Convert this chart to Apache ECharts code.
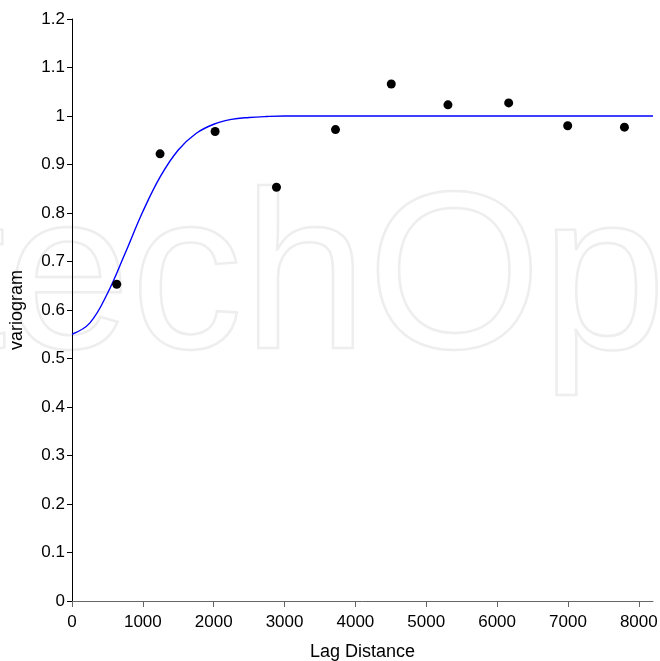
<!DOCTYPE html>
<html>
<head>
<meta charset="utf-8">
<script src="https://cdn.jsdelivr.net/npm/echarts@6/dist/echarts.min.js"></script>
<style>html,body{margin:0;padding:0;background:#fff;}#c{width:660px;height:661px;}</style>
</head>
<body>
<div id="c"></div>
<script>
// Experimental variogram points (lag distance, value)
var lagX = [631, 1243, 2020, 2886, 3719, 4506, 5306, 6163, 6996, 7797];
var lagY = [0.653, 0.922, 0.968, 0.853, 0.972, 1.066, 1.023, 1.027, 0.980, 0.977];
// Fitted model curve
var modelX = [0, 250, 500, 750, 1000, 1250, 1500, 1750, 2000, 2250, 2500, 2750, 3000, 4000, 5000, 6000, 7000, 8000, 8200];
var modelY = [0.550, 0.573, 0.634, 0.717, 0.803, 0.876, 0.930, 0.964, 0.983, 0.993, 0.997, 0.999, 1.000, 1.000, 1.000, 1.000, 1.000, 1.000, 1.000];
var xTicks = [0, 1000, 2000, 3000, 4000, 5000, 6000, 7000, 8000];
var watermarkText = 'IntechOpen';

var chart = echarts.init(document.getElementById('c'), null, {renderer: 'canvas'});
var font = 'Liberation Sans, Arial, sans-serif';
chart.setOption({
  backgroundColor: '#fff',
  animation: false,
  graphic: [{
    type: 'text', z: -10, silent: true,
    style: {
      x: -243, y: 286, text: watermarkText,
      font: '224px "Liberation Sans", Arial, sans-serif',
      fill: 'rgba(0,0,0,0)', stroke: '#eeeeee', lineWidth: 2.5,
      textAlign: 'left', textVerticalAlign: 'middle'
    }
  }],
  grid: {left: 72, top: 19, right: 7, bottom: 60, containLabel: false, outerBoundsMode: 'none'},
  xAxis: {
    type: 'value', min: 0, max: 8200, interval: 1000,
    name: 'Lag Distance', nameLocation: 'middle', nameGap: 42,
    nameTextStyle: {fontFamily: font, fontSize: 18, color: '#000'},
    splitLine: {show: false},
    axisLine: {show: true, lineStyle: {color: '#666', width: 1}},
    axisTick: {show: true, length: 6, lineStyle: {color: '#666'}, customValues: xTicks},
    axisLabel: {fontFamily: font, fontSize: 17, color: '#000', margin: 13, customValues: xTicks,
      formatter: function (v) { return String(v); }}
  },
  yAxis: {
    type: 'value', min: 0, max: 1.2, interval: 0.1,
    name: 'variogram', nameLocation: 'middle', nameGap: 46,
    nameTextStyle: {fontFamily: font, fontSize: 18, color: '#000'},
    splitLine: {show: false},
    axisLine: {show: true, lineStyle: {color: '#000', width: 1}},
    axisTick: {show: true, length: 5, lineStyle: {color: '#000'}},
    axisLabel: {fontFamily: font, fontSize: 17, color: '#000', margin: 7}
  },
  series: [{
    type: 'line', data: modelX.map(function (x, i) { return [x, modelY[i]]; }),
    smooth: 0.4, showSymbol: false, symbol: 'none',
    lineStyle: {color: '#0000ff', width: 1.4, opacity: 1}, z: 2
  }, {
    type: 'scatter', data: lagX.map(function (x, i) { return [x, lagY[i]]; }),
    symbol: 'circle', symbolSize: 9,
    itemStyle: {color: '#000', opacity: 1}, z: 3
  }]
});
</script>
</body>
</html>
